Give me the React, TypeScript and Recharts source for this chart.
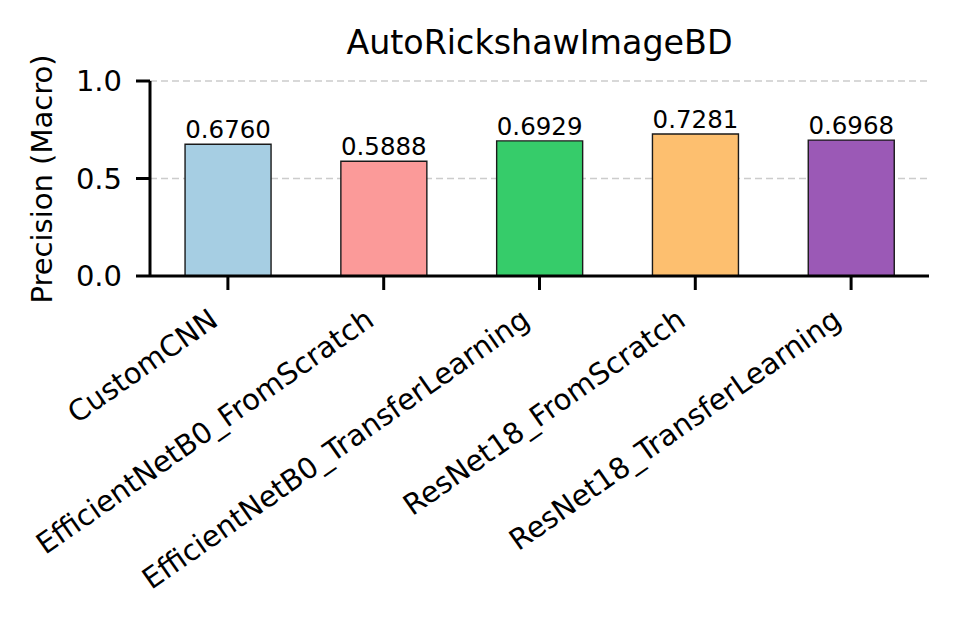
import { BarChart, Bar, XAxis, YAxis, CartesianGrid, Cell, LabelList } from 'recharts'

const models = [
  'CustomCNN',
  'EfficientNetB0_FromScratch',
  'EfficientNetB0_TransferLearning',
  'ResNet18_FromScratch',
  'ResNet18_TransferLearning'
]
const precision = [0.6760, 0.5888, 0.6929, 0.7281, 0.6968]
const barColors = ['#a6cee3', '#fb9a99', '#36cc6a', '#fdbf6f', '#9b59b6']
const yTicks = [0, 0.5, 1]

const FONT = '"DejaVu Sans", sans-serif'

const data = models.map((m, i) => ({ name: m, precision: precision[i] }))

const XTick = (props: any) => {
  const { x, y, payload } = props
  return (
    <g transform={`translate(${x - 8},${y + 34})`}>
      <text textAnchor="end" transform="rotate(-35)" fontSize={29} fontFamily={FONT} fill="#000">
        {payload.value}
      </text>
    </g>
  )
}

const BarValue = (props: any) => {
  const { x, y, width, value } = props
  return (
    <text x={x + width / 2} y={y - 6} textAnchor="middle" fontSize={24.5} fontFamily={FONT} fill="#000">
      {Number(value).toFixed(4)}
    </text>
  )
}

export default function App() {
  return (
    <div style={{ position: 'absolute', left: 0, top: 0, width: 957, height: 627, background: '#fff' }}>
      <BarChart width={957} height={627} data={data} margin={{ top: 81, right: 28, bottom: 0, left: 0 }} barCategoryGap="22.5%">
        <text x={539.5} y={54} textAnchor="middle" fontSize={33.3} fontFamily={FONT} fill="#000">AutoRickshawImageBD</text>
        <text transform="translate(51.5,179) rotate(-90)" textAnchor="middle" fontSize={29} fontFamily={FONT} fill="#000">Precision (Macro)</text>
        <CartesianGrid vertical={false} stroke="#cccccc" strokeDasharray="7 4" strokeWidth={1.4} />
        <XAxis
          dataKey="name"
          height={351}
          interval={0}
          tick={<XTick />}
          tickSize={14}
          tickMargin={0}
          axisLine={{ stroke: '#000', strokeWidth: 3 }}
          tickLine={{ stroke: '#000', strokeWidth: 3 }}
        />
        <YAxis
          width={150}
          domain={[0, 1]}
          ticks={yTicks}
          tickFormatter={(v: number) => v.toFixed(1)}
          tickSize={14}
          tickMargin={14}
          tick={{ fontSize: 29, fontFamily: FONT, fill: '#000' }}
          axisLine={{ stroke: '#000', strokeWidth: 3 }}
          tickLine={{ stroke: '#000', strokeWidth: 3 }}
        />
        <Bar dataKey="precision" stroke="#1a1a1a" strokeWidth={1.4} isAnimationActive={false}>
          {data.map((d, i) => (
            <Cell key={d.name} fill={barColors[i]} />
          ))}
          <LabelList dataKey="precision" content={<BarValue />} />
        </Bar>
      </BarChart>
    </div>
  )
}
